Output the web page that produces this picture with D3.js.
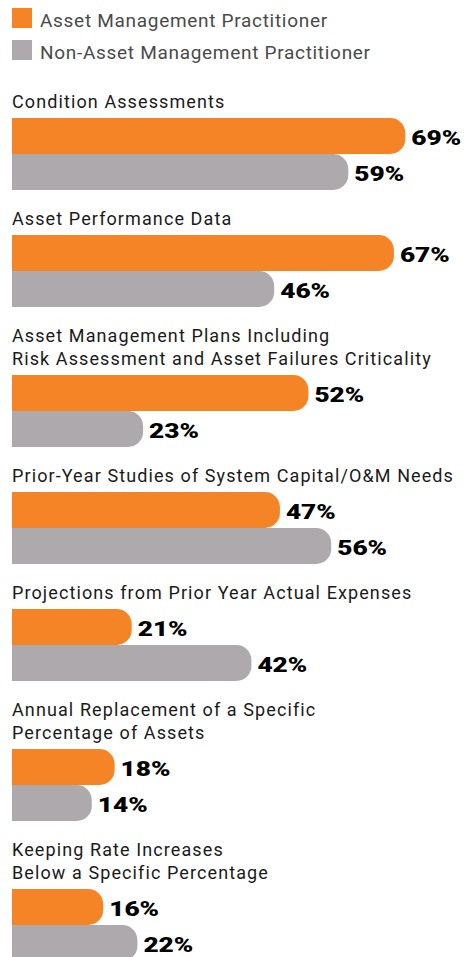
<!DOCTYPE html>
<html>
<head>
<meta charset="utf-8">
<script src="https://cdn.jsdelivr.net/npm/d3@7"></script>
<style>
  html, body { margin: 0; padding: 0; background: #fff; }
  svg { display: block; }
</style>
</head>
<body>
<script>
// ---- data ----
const seriesNames = ["Asset Management Practitioner", "Non-Asset Management Practitioner"];
const seriesColors = ["#F58427", "#ADA9AD"];
const categories = [
  "Condition Assessments",
  "Asset Performance Data",
  "Asset Management Plans Including\nRisk Assessment and Asset Failures Criticality",
  "Prior-Year Studies of System Capital/O&M Needs",
  "Projections from Prior Year Actual Expenses",
  "Annual Replacement of a Specific\nPercentage of Assets",
  "Keeping Rate Increases\nBelow a Specific Percentage"
];
const amValues = [69, 67, 52, 47, 21, 18, 16];
const nonAmValues = [59, 46, 23, 56, 42, 14, 22];

// ---- layout ----
const W = 465, H = 957;
const svg = d3.select("body").append("svg").attr("width", W).attr("height", H);
const x = d3.scaleLinear().domain([0, 100]).range([12, 582]);
const barH = 36, lineH = 23, r = 15;

// legend
const legend = svg.append("g");
seriesNames.forEach((n, i) => {
  legend.append("rect").attr("x", 12).attr("y", 8 + i * 32).attr("width", 20).attr("height", 20)
    .attr("fill", seriesColors[i]);
  legend.append("text").attr("x", 40).attr("y", 27 + i * 32).text(n)
    .attr("font-family", "Roboto").attr("font-size", 19).attr("letter-spacing", 0.7)
    .attr("fill", "#4a4a4a");
});

function barPath(x0, x1, y, h) {
  const rr = Math.min(r, (x1 - x0));
  return `M${x0},${y}H${x1 - rr}A${rr},${rr} 0 0 1 ${x1},${y + rr}V${y + h - rr}A${rr},${rr} 0 0 1 ${x1 - rr},${y + h}H${x0}Z`;
}

let barTop = 118;
const groups = categories.map((c, i) => {
  const lines = c.split("\n");
  if (i > 0) barTop += 2 * barH + 45 + lineH * (lines.length - 1);
  return { lines, barTop, vals: [amValues[i], nonAmValues[i]] };
});

groups.forEach(g => {
  const gg = svg.append("g");
  const n = g.lines.length;
  const t = gg.append("text").attr("font-family", "Roboto").attr("font-size", 18)
    .attr("letter-spacing", 1.1).attr("fill", "#1a1a1a");
  g.lines.forEach((l, j) => {
    t.append("tspan").attr("x", 12).attr("y", g.barTop - 10 - lineH * (n - 1 - j)).text(l);
  });
  g.vals.forEach((v, k) => {
    const y = g.barTop + k * barH;
    gg.append("path").attr("d", barPath(x(0), x(v), y, barH)).attr("fill", seriesColors[k]);
    gg.append("text")
      .attr("transform", `translate(${x(v) + 6},${y + barH / 2 + 8.5}) scale(1.25,1)`)
      .attr("font-family", "Roboto").attr("font-weight", 900).attr("font-size", 21)
      .attr("fill", "#000").text(v + "%");
  });
});
</script>
</body>
</html>
